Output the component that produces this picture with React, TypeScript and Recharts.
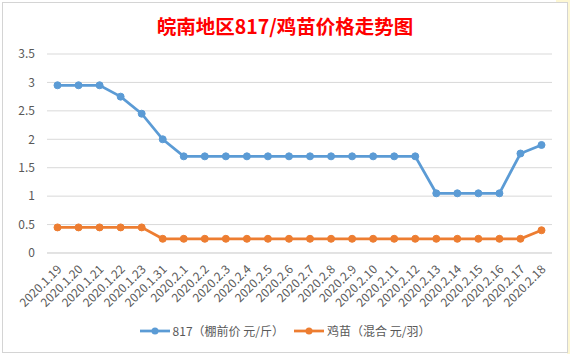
import React from "react";
import { LineChart, Line, XAxis, YAxis, CartesianGrid, Legend } from "recharts";

const categories = [
  "2020.1.19", "2020.1.20", "2020.1.21", "2020.1.22", "2020.1.23", "2020.1.31",
  "2020.2.1", "2020.2.2", "2020.2.3", "2020.2.4", "2020.2.5", "2020.2.6",
  "2020.2.7", "2020.2.8", "2020.2.9", "2020.2.10", "2020.2.11", "2020.2.12",
  "2020.2.13", "2020.2.14", "2020.2.15", "2020.2.16", "2020.2.17", "2020.2.18",
];
const price817 = [
  2.95, 2.95, 2.95, 2.75, 2.45, 2.0,
  1.7, 1.7, 1.7, 1.7, 1.7, 1.7,
  1.7, 1.7, 1.7, 1.7, 1.7, 1.7,
  1.05, 1.05, 1.05, 1.05, 1.75, 1.9,
];
const priceChick = [
  0.45, 0.45, 0.45, 0.45, 0.45, 0.25,
  0.25, 0.25, 0.25, 0.25, 0.25, 0.25,
  0.25, 0.25, 0.25, 0.25, 0.25, 0.25,
  0.25, 0.25, 0.25, 0.25, 0.25, 0.4,
];
const yTicks = [0, 0.5, 1, 1.5, 2, 2.5, 3, 3.5];
const seriesNames = ["817（棚前价 元/斤）", "鸡苗（混合 元/羽）"];
const title = "皖南地区817/鸡苗价格走势图";

const data = categories.map((c, i) => ({ name: c, a: price817[i], b: priceChick[i] }));

const FONT = "'Noto Sans CJK SC', 'Noto Sans', sans-serif";
const GRAY = "#595959";
const BLUE = "#5B9BD5";
const ORANGE = "#ED7D31";

const XTick = (props: any) => {
  const { x, y, payload } = props;
  return (
    <g transform={`translate(${x + 5},${y + 9})`}>
      <text
        x={0}
        y={0}
        transform="rotate(-45)"
        textAnchor="end"
        fontSize={12}
        fill={GRAY}
        fontFamily={FONT}
      >
        {payload.value}
      </text>
    </g>
  );
};

const LegendContent = (props: any) => {
  const { payload } = props;
  return (
    <div style={{ display: "flex", justifyContent: "center", fontFamily: FONT, fontSize: 12, color: GRAY }}>
      {(payload || []).map((p: any, i: number) => (
        <div key={i} style={{ display: "flex", alignItems: "center", marginRight: i === 0 ? 10 : 0 }}>
          <svg width={30} height={12} style={{ marginRight: 3 }}>
            <line x1={0} y1={6} x2={30} y2={6} stroke={p.color} strokeWidth={2.75} />
            <circle cx={15} cy={6} r={3.5} fill={p.color} />
          </svg>
          <span>{p.value}</span>
        </div>
      ))}
    </div>
  );
};

export default function App() {
  return (
    <div style={{ position: "absolute", left: 0, top: 0, width: 570, height: 354, background: "#ffffff", overflow: "hidden" }}>
      <div style={{ position: "absolute", left: 567, top: 0, width: 3, height: 354, background: "#fdf7d3" }} />
      <div style={{ position: "absolute", left: 556, top: 0, width: 14, height: 2, background: "#fdf7d3" }} />
      <div
        style={{
          position: "absolute",
          left: 2,
          top: 2,
          width: 564,
          height: 349,
          border: "1px solid #d4d4d4",
          background: "#ffffff",
        }}
      />
      <div
        style={{
          position: "absolute",
          left: 0,
          top: 13,
          width: 570,
          textAlign: "center",
          fontFamily: FONT,
          fontWeight: "bold",
          fontSize: 19.5,
          color: "#FF0000",
          lineHeight: "26px",
        }}
      >
        {title}
      </div>
      <div style={{ position: "absolute", left: 0, top: 0 }}>
        <LineChart width={570} height={354} data={data} margin={{ top: 54, right: 18, bottom: 24, left: 7 }}>
          <CartesianGrid vertical={false} stroke="#d9d9d9" />
          <XAxis
            dataKey="name"
            interval={0}
            tick={<XTick />}
            tickLine={false}
            axisLine={{ stroke: "#d9d9d9" }}
            height={60}
            padding={{ left: 10.5, right: 10.5 }}
          />
          <YAxis
            domain={[0, 3.5]}
            ticks={yTicks}
            width={40}
            axisLine={false}
            tickLine={false}
            tick={{ fontSize: 12, fill: GRAY, fontFamily: FONT }}
            tickMargin={6}
          />
          <Legend
            content={<LegendContent />}
            wrapperStyle={{ position: "absolute", top: 322, left: 0, width: 570 }}
          />
          <Line
            dataKey="a"
            name={seriesNames[0]}
            stroke={BLUE}
            strokeWidth={2.75}
            dot={{ r: 3.5, fill: BLUE, stroke: BLUE, strokeWidth: 1 }}
            isAnimationActive={false}
          />
          <Line
            dataKey="b"
            name={seriesNames[1]}
            stroke={ORANGE}
            strokeWidth={2.75}
            dot={{ r: 3.5, fill: ORANGE, stroke: ORANGE, strokeWidth: 1 }}
            isAnimationActive={false}
          />
        </LineChart>
      </div>
    </div>
  );
}
